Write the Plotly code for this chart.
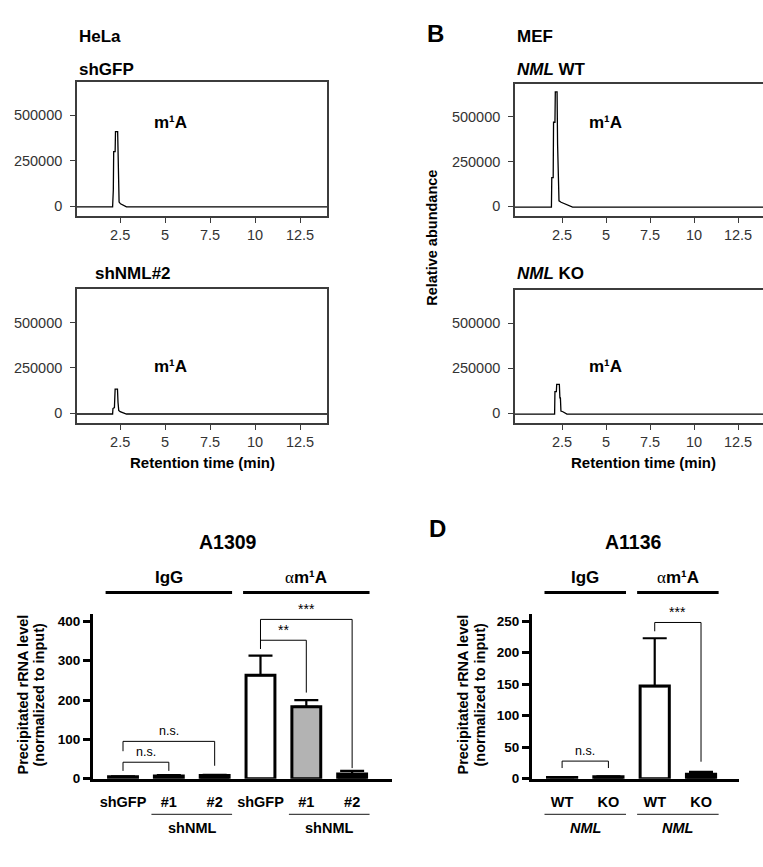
import plotly.graph_objects as go

W, H = 763, 867
FONT = "Liberation Sans, Arial, sans-serif"

# ---------------- data ----------------
# Chromatograms: retention time (min) / relative abundance
rt_ticks = [2.5, 5, 7.5, 10, 12.5]
rt_tick_text = ["2.5", "5", "7.5", "10", "12.5"]
ab_ticks = [0, 250000, 500000]
ab_tick_text = ["0", "250000", "500000"]

hela_shgfp_t = [0.1, 2.08, 2.12, 2.14, 2.22, 2.24, 2.36, 2.38, 2.41, 2.44, 2.52, 2.65, 2.85, 14.0]
hela_shgfp_y = [-5000, -5000, 90000, 300000, 300000, 410000, 410000, 220000, 50000, 22000, 12000, 5000, -5000, -5000]

hela_shnml2_t = [0.1, 2.08, 2.10, 2.18, 2.22, 2.35, 2.38, 2.42, 2.50, 2.65, 2.85, 14.0]
hela_shnml2_y = [-5000, -5000, 25000, 30000, 132000, 132000, 60000, 15000, 8000, 4000, -5000, -5000]

mef_wt_t = [-0.2, 1.90, 1.92, 2.00, 2.02, 2.10, 2.12, 2.22, 2.25, 2.29, 2.33, 2.45, 2.65, 2.85, 3.10, 14.0]
mef_wt_y = [-5000, -5000, 160000, 160000, 470000, 470000, 640000, 640000, 345000, 60000, 30000, 22000, 15000, 6000, -5000, -5000]

mef_ko_t = [-0.2, 2.08, 2.10, 2.18, 2.20, 2.35, 2.38, 2.41, 2.44, 2.55, 2.78, 14.0]
mef_ko_y = [-5000, -5000, 120000, 120000, 160000, 160000, 85000, 85000, 12000, 8000, -5000, -5000]

# Panel C: A1309
c_labels = ["shGFP", "#1", "#2", "shGFP", "#1", "#2"]
c_values = [5, 7, 8, 263, 183, 12]
c_errors = [1, 2, 2, 50, 17, 8]
c_ticks = [0, 100, 200, 300, 400]
# (left bar, right bar, bracket level, left leg end, right leg end, label)
c_brackets = [(0, 1, 42, 20, 20, "n.s."), (0, 2, 95, 70, 33, "n.s."),
              (3, 4, 352, 330, 219, "**"), (3, 5, 405, 330, 27, "***")]

# Panel D: A1136
d_labels = ["WT", "KO", "WT", "KO"]
d_values = [2, 3, 147, 7]
d_errors = [0.5, 1, 76, 4]
d_ticks = [0, 50, 100, 150, 200, 250]
d_brackets = [(0, 1, 28, 17, 17, "n.s."), (2, 3, 248, 234, 27, "***")]

ALPHA = '<span style="font-family:Liberation Serif;font-weight:normal">α</span>m¹A'
# group annotations: (first bar, last bar, label)
c_groups = [(0, 2, "IgG"), (3, 5, ALPHA)]
c_sub = [(1, 2, "shNML"), (4, 5, "shNML")]
d_groups = [(0, 1, "IgG"), (2, 3, ALPHA)]
d_sub = [(0, 1, "<i>NML</i>"), (2, 3, "<i>NML</i>")]

# ---------------- helpers (layout only) ----------------
def dx(a, b):
    return [a / W, b / W]

def dy(top, bottom):
    return [1 - bottom / H, 1 - top / H]

def px(x):
    return x / W

def py(y):
    return 1 - y / H

fig = go.Figure()

chroms = [(hela_shgfp_t, hela_shgfp_y, "x", "y"),
          (hela_shnml2_t, hela_shnml2_y, "x2", "y2"),
          (mef_wt_t, mef_wt_y, "x3", "y3"),
          (mef_ko_t, mef_ko_y, "x4", "y4")]
for t, v, xa, ya in chroms:
    fig.add_trace(go.Scatter(x=t, y=v, mode="lines", line=dict(color="black", width=1.3),
                             xaxis=xa, yaxis=ya, showlegend=False, hoverinfo="skip"))

c_pos = list(range(len(c_labels)))
d_pos = list(range(len(d_labels)))
c_fill = ["white", "#b3b3b3", "black", "white", "#b3b3b3", "black"]
d_fill = ["white", "black", "white", "black"]

fig.add_trace(go.Bar(x=c_pos, y=c_values, width=0.63,
                     marker=dict(color=c_fill, line=dict(color="black", width=3)),
                     error_y=dict(type="data", array=c_errors, arrayminus=[0] * len(c_errors),
                                  symmetric=False, color="black", thickness=2.2, width=12),
                     xaxis="x5", yaxis="y5", showlegend=False))
fig.add_trace(go.Bar(x=d_pos, y=d_values, width=0.63,
                     marker=dict(color=d_fill, line=dict(color="black", width=3)),
                     error_y=dict(type="data", array=d_errors, arrayminus=[0] * len(d_errors),
                                  symmetric=False, color="black", thickness=2.2, width=12),
                     xaxis="x6", yaxis="y6", showlegend=False))

LC = "#3c3c3c"
tickfont_c = dict(family=FONT, size=14.5, color="#333")
def chrom_x(dom, rng, anchor):
    return dict(domain=dom, range=rng, anchor=anchor, showline=True, linecolor=LC, linewidth=1.6,
                mirror=True, ticks="outside", ticklen=5, tickwidth=1.2, tickcolor=LC,
                showgrid=False, zeroline=False, tickvals=rt_ticks, ticktext=rt_tick_text,
                tickfont=tickfont_c)

def chrom_y(dom, anchor, mirror):
    return dict(domain=dom, range=[-55000, 683000], anchor=anchor, showline=True, linecolor=LC,
                linewidth=1.6, mirror=mirror, ticks="outside", ticklen=5, tickwidth=1.2,
                tickcolor=LC, showgrid=False, zeroline=False, tickvals=ab_ticks,
                ticktext=ab_tick_text, tickfont=tickfont_c, ticklabelstandoff=5)

bold13 = dict(family=FONT, size=13.5, color="black", weight="bold")
bold14 = dict(family=FONT, size=14.5, color="black", weight="bold")

def bar_x(dom, rng, anchor, pos, labels):
    return dict(domain=dom, range=rng, anchor=anchor, showline=True, linecolor="black",
                linewidth=3, ticks="", tickvals=pos, ticktext=labels, tickfont=bold14,
                showgrid=False, zeroline=False, ticklabelstandoff=8, fixedrange=True)

def bar_y(dom, rng, anchor, ticks):
    return dict(domain=dom, range=rng, anchor=anchor, showline=True, linecolor="black",
                linewidth=3, ticks="outside", ticklen=7, tickwidth=2.5, tickcolor="black",
                tickvals=ticks, tickfont=bold13, showgrid=False, zeroline=False)

fig.update_layout(
    width=W, height=H, margin=dict(l=0, r=0, t=0, b=0),
    paper_bgcolor="white", plot_bgcolor="white", showlegend=False,
    font=dict(family=FONT, color="black"),
    xaxis=chrom_x(dx(77, 327), [0.1, 14.0], "y"),
    yaxis=chrom_y(dy(83, 218), "x", True),
    xaxis2=chrom_x(dx(77, 327), [0.1, 14.0], "y2"),
    yaxis2=chrom_y(dy(292, 427), "x2", True),
    xaxis3=chrom_x(dx(515, 763), [-0.17, 13.92], "y3"),
    yaxis3=chrom_y(dy(85, 218), "x3", False),
    xaxis4=chrom_x(dx(515, 763), [-0.17, 13.92], "y4"),
    yaxis4=chrom_y(dy(293, 427), "x4", False),
    xaxis5=bar_x(dx(93, 392), [-0.655, 5.87], "y5", c_pos, c_labels),
    yaxis5=bar_y(dy(620, 786), [0, 418], "x5", c_ticks),
    xaxis6=bar_x(dx(532, 739), [-0.65, 3.82], "y6", d_pos, d_labels),
    yaxis6=bar_y(dy(620, 786), [0, 261], "x6", d_ticks),
)

ann = []
shapes = []

def txt(x, y, text, size, xanchor="left", bold=True, angle=0):
    ann.append(dict(x=px(x), y=py(y), xref="paper", yref="paper", text=text, showarrow=False,
                    xanchor=xanchor, yanchor="middle", textangle=angle,
                    font=dict(family=FONT, size=size, color="black",
                              weight="bold" if bold else "normal")))

# top panel labels
txt(77, 37, "HeLa", 17)
txt(77, 70, "shGFP", 17)
txt(93, 276, "shNML#2", 17)
txt(425, 34, "B", 24)
txt(515, 37, "MEF", 17)
txt(515, 70, "<i>NML</i> WT", 17)
txt(515, 276, "<i>NML</i> KO", 17)
for xx, yy in [(152, 124), (152, 370), (587, 124), (587, 370)]:
    txt(xx, yy, "m¹A", 17)
txt(202, 467, "Retention time (min)", 15, xanchor="center")
txt(643, 467, "Retention time (min)", 15, xanchor="center")
txt(432, 240, "Relative abundance", 14.5, xanchor="center", angle=-90)

# bottom panel labels
txt(228, 547, "A1309", 19.5, xanchor="center")
txt(633, 547, "A1136", 19.5, xanchor="center")
txt(437, 533, "D", 24, xanchor="center")
txt(23, 701, "Precipitated rRNA level", 14.5, xanchor="center", angle=-90)
txt(39, 701, "(normalized to input)", 14.5, xanchor="center", angle=-90)
txt(463, 701, "Precipitated rRNA level", 14.5, xanchor="center", angle=-90)
txt(480, 701, "(normalized to input)", 14.5, xanchor="center", angle=-90)

def groups(xa, grp, sub):
    for a, b, label in grp:
        ann.append(dict(x=(a + b) / 2, y=py(583), xref=xa, yref="paper", text=label,
                        showarrow=False, xanchor="center", yanchor="middle",
                        font=dict(family=FONT, size=17, color="black", weight="bold")))
        shapes.append(dict(type="line", xref=xa, yref="paper", x0=a - 0.38, x1=b + 0.38,
                           y0=py(598), y1=py(598), line=dict(color="black", width=3)))
    for a, b, label in sub:
        ann.append(dict(x=(a + b) / 2, y=py(836), xref=xa, yref="paper", text=label,
                        showarrow=False, xanchor="center", yanchor="middle",
                        font=dict(family=FONT, size=14.5, color="black", weight="bold")))
        shapes.append(dict(type="line", xref=xa, yref="paper", x0=a - 0.38, x1=b + 0.38,
                           y0=py(822), y1=py(822), line=dict(color="#444", width=1.2)))

groups("x5", c_groups, c_sub)
groups("x6", d_groups, d_sub)

def brackets(xa, ya, br):
    for a, b, top, la, lb, label in br:
        shapes.append(dict(type="path", xref=xa, yref=ya,
                           path=f"M {a},{la} L {a},{top} L {b},{top} L {b},{lb}",
                           line=dict(color="black", width=1)))
        star = label.startswith("*")
        ann.append(dict(x=(a + b) / 2, y=top, xref=xa, yref=ya, text=label, showarrow=False,
                        xanchor="center", yanchor="bottom", yshift=0 if star else 1,
                        font=dict(family=FONT, size=14 if star else 12.5, color="black")))

brackets("x5", "y5", c_brackets)
brackets("x6", "y6", d_brackets)

fig.update_layout(annotations=ann, shapes=shapes)
fig.write_html("out.html")
